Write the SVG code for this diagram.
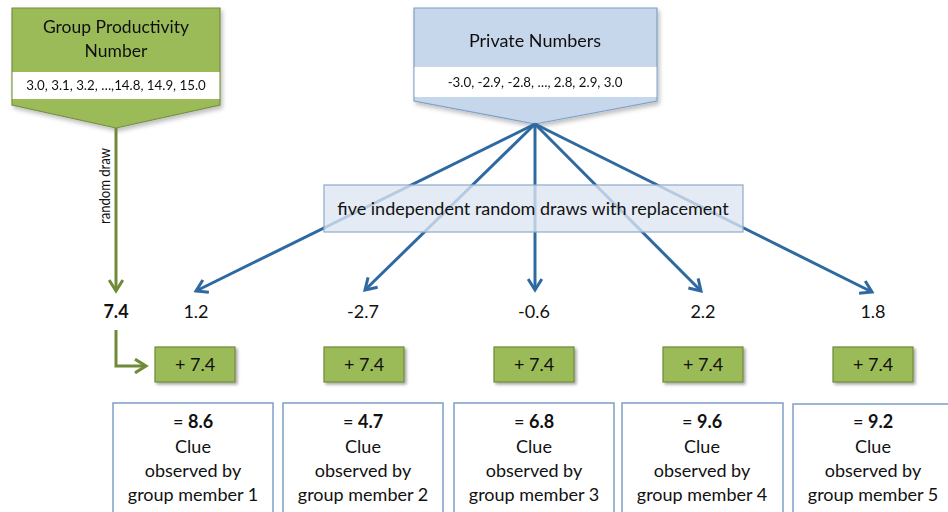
<svg xmlns="http://www.w3.org/2000/svg" width="948" height="512" viewBox="0 0 948 512">
<defs>
<style>
text{font-family:Lato,"Liberation Sans",sans-serif;fill:#111;}
.t{font-size:18px;text-anchor:middle;}
.s{font-size:13.3px;text-anchor:middle;}
.b{font-weight:bold;}
.gfill{fill:#9bbb59;stroke:#748f3f;stroke-width:1.2;}
.bfill{fill:#c6d6eb;stroke:#7f9fc8;stroke-width:1.2;}
.band{fill:#fff;stroke:none;}
.gbox{fill:#9bbb59;stroke:#6f8a38;stroke-width:1.2;filter:url(#sh);}
.clue{fill:#fff;stroke:#7f9fc8;stroke-width:1.5;}
.blue{stroke:#2f69a1;stroke-width:3;fill:none;marker-end:url(#ab);}
.green{stroke:#6f8a38;stroke-width:3;fill:none;marker-end:url(#ag);}
</style>
<marker id="ab" viewBox="0 0 12 12" refX="10" refY="6" markerWidth="5.5" markerHeight="5.5" markerUnits="strokeWidth" orient="auto">
<path d="M2,1 L10,6 L2,11" fill="none" stroke="#2f69a1" stroke-width="2.2"/>
</marker>
<marker id="ag" viewBox="0 0 12 12" refX="10" refY="6" markerWidth="5.5" markerHeight="5.5" markerUnits="strokeWidth" orient="auto">
<path d="M2,1 L10,6 L2,11" fill="none" stroke="#6f8a38" stroke-width="2.2"/>
</marker>
<filter id="sh" x="-20%" y="-20%" width="150%" height="160%">
<feDropShadow dx="2" dy="2" stdDeviation="1.5" flood-color="#000" flood-opacity="0.35"/>
</filter>
<filter id="sh2" x="-10%" y="-10%" width="130%" height="130%">
<feDropShadow dx="2" dy="3" stdDeviation="2" flood-color="#000" flood-opacity="0.25"/>
</filter>
</defs>
<rect width="948" height="512" fill="#fff"/>

<g id="group-productivity" filter="url(#sh2)">
<polygon class="gfill" points="12,8 220,8 220,105 116,128 12,105"/>
<rect class="band" x="12.6" y="72" width="206.8" height="27"/>
<text class="t" x="116" y="33" style="font-size:17.5px">Group Productivity</text>
<text class="t" x="116" y="57" style="font-size:17.5px">Number</text>
<text class="s" x="116" y="90">3.0, 3.1, 3.2, …,14.8, 14.9, 15.0</text>
</g>

<g id="private-numbers" filter="url(#sh2)">
<polygon class="bfill" points="414,8 657,8 657,101 535,124 414,101"/>
<rect class="band" x="414.6" y="67" width="241.8" height="30"/>
<text class="t" x="535" y="47">Private Numbers</text>
<text class="s" x="535" y="87">-3.0, -2.9, -2.8, …, 2.8, 2.9, 3.0</text>
</g>

<g id="connectors">
<line class="blue" x1="535" y1="124" x2="196" y2="291"/>
<line class="blue" x1="535" y1="124" x2="365" y2="290"/>
<line class="blue" x1="535" y1="124" x2="535" y2="290"/>
<line class="blue" x1="535" y1="124" x2="701" y2="291"/>
<line class="blue" x1="535" y1="124" x2="872" y2="292"/>
<line class="green" x1="116" y1="128" x2="116" y2="291"/>
<polyline class="green" points="116,330 116,366 146,366"/>
</g>

<g id="draws-label">
<rect x="324" y="185" width="419" height="47" fill="#dce6f2" fill-opacity="0.78" stroke="#8eaacb" stroke-width="1.2"/>
<text class="t" x="533" y="215">five independent random draws with replacement</text>
</g>

<g id="random-draw-label">
<text class="t" transform="translate(110,186) rotate(-90)" style="font-size:16px" textLength="76" lengthAdjust="spacingAndGlyphs">random draw</text>
</g>

<g id="value-7-4"><text class="t b" x="116" y="318">7.4</text></g>
<g id="value-1"><text class="t" x="196" y="318">1.2</text></g>
<g id="value-2"><text class="t" x="363" y="318">-2.7</text></g>
<g id="value-3"><text class="t" x="534" y="318">-0.6</text></g>
<g id="value-4"><text class="t" x="703" y="318">2.2</text></g>
<g id="value-5"><text class="t" x="873" y="318">1.8</text></g>

<g id="add-1"><rect class="gbox" x="155" y="347" width="80" height="35"/><text class="t" x="195" y="371">+ 7.4</text></g>
<g id="add-2"><rect class="gbox" x="324" y="347" width="80" height="35"/><text class="t" x="364" y="371">+ 7.4</text></g>
<g id="add-3"><rect class="gbox" x="494" y="347" width="80" height="35"/><text class="t" x="534" y="371">+ 7.4</text></g>
<g id="add-4"><rect class="gbox" x="663" y="347" width="80" height="35"/><text class="t" x="703" y="371">+ 7.4</text></g>
<g id="add-5"><rect class="gbox" x="833" y="347" width="80" height="35"/><text class="t" x="873" y="371">+ 7.4</text></g>

<g id="clue-1"><rect class="clue" x="113" y="403" width="160" height="120"/>
<text class="t" x="193" y="428">= <tspan class="b">8.6</tspan></text>
<text class="t" x="193" y="453">Clue</text><text class="t" x="193" y="477">observed by</text><text class="t" x="193" y="501">group member 1</text></g>
<g id="clue-2"><rect class="clue" x="283" y="403" width="160" height="120"/>
<text class="t" x="363" y="428">= <tspan class="b">4.7</tspan></text>
<text class="t" x="363" y="453">Clue</text><text class="t" x="363" y="477">observed by</text><text class="t" x="363" y="501">group member 2</text></g>
<g id="clue-3"><rect class="clue" x="454" y="403" width="160" height="120"/>
<text class="t" x="534" y="428">= <tspan class="b">6.8</tspan></text>
<text class="t" x="534" y="453">Clue</text><text class="t" x="534" y="477">observed by</text><text class="t" x="534" y="501">group member 3</text></g>
<g id="clue-4"><rect class="clue" x="622" y="403" width="161" height="120"/>
<text class="t" x="702" y="428">= <tspan class="b">9.6</tspan></text>
<text class="t" x="702" y="453">Clue</text><text class="t" x="702" y="477">observed by</text><text class="t" x="702" y="501">group member 4</text></g>
<g id="clue-5"><rect class="clue" x="793" y="404" width="160" height="120"/>
<text class="t" x="873" y="428">= <tspan class="b">9.2</tspan></text>
<text class="t" x="873" y="453">Clue</text><text class="t" x="873" y="477">observed by</text><text class="t" x="873" y="501">group member 5</text></g>
</svg>
